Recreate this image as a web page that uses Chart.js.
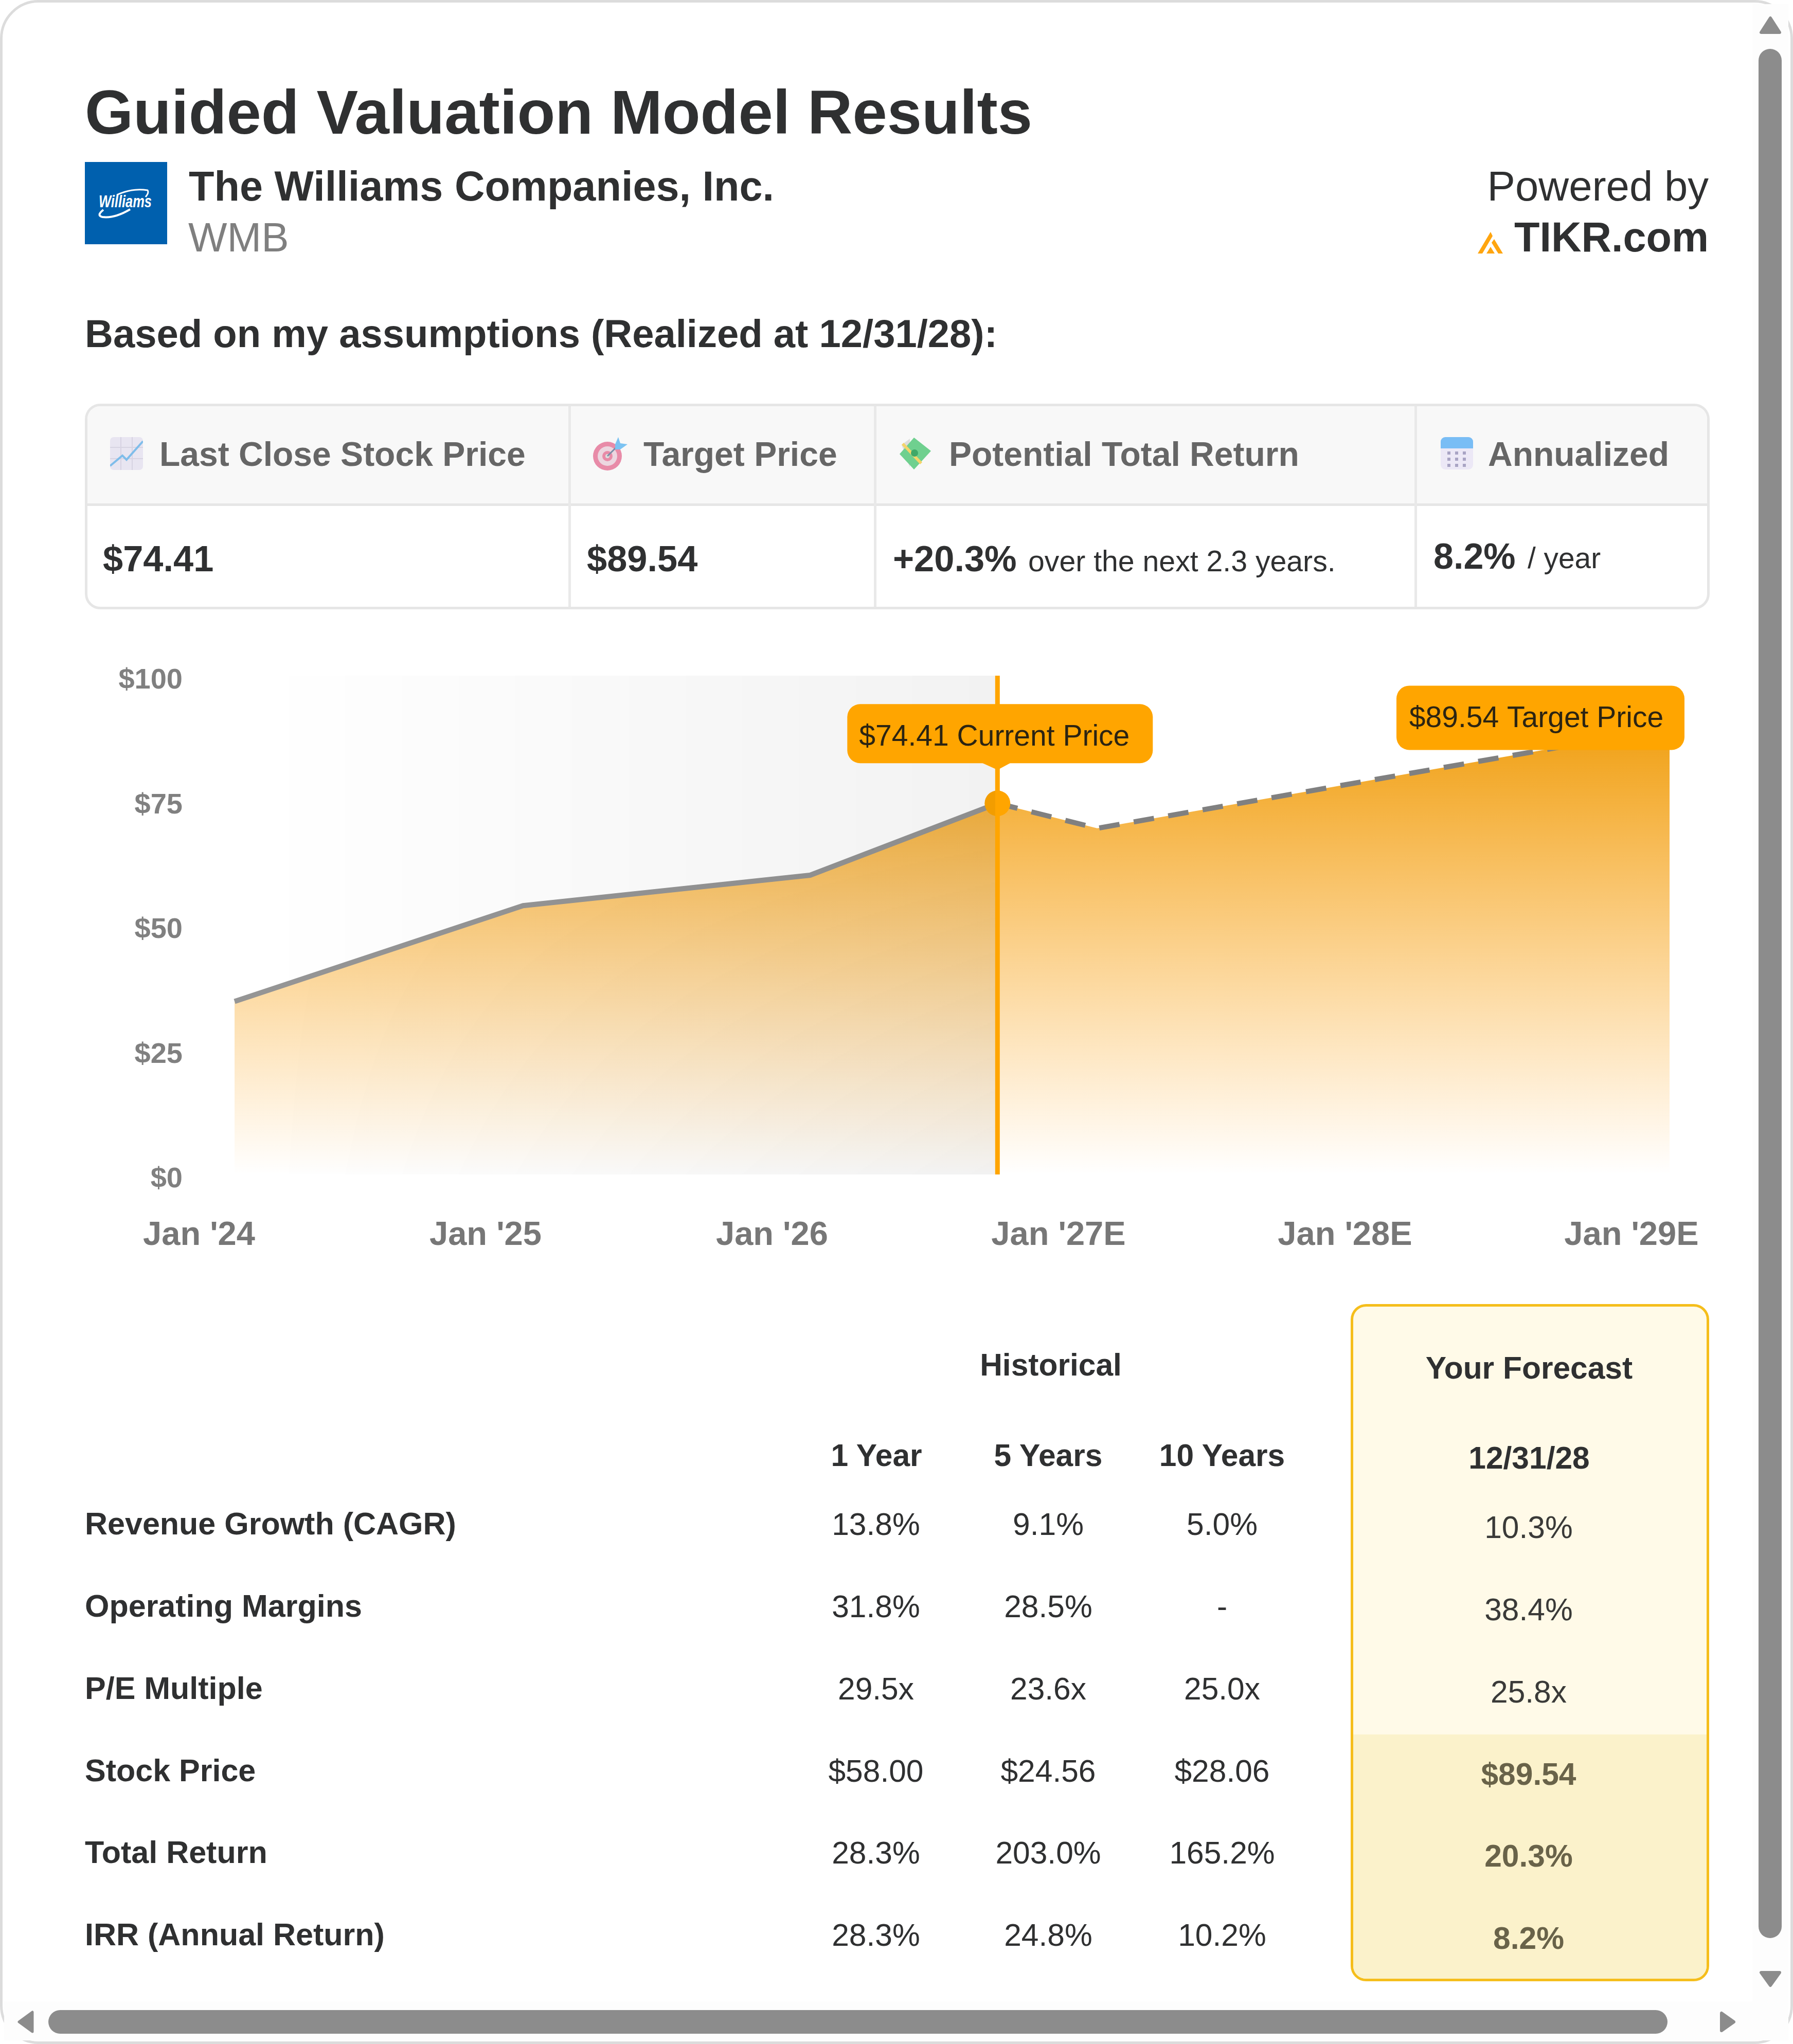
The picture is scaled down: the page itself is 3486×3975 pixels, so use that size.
<!DOCTYPE html>
<html>
<head>
<meta charset="utf-8">
<script src="https://cdn.jsdelivr.net/npm/chart.js@4"></script>
<style>
html,body{margin:0;padding:0;background:#fff;}
body{width:3486px;height:3975px;overflow:hidden;position:relative;font-family:"Liberation Sans",Arial,sans-serif;}
.t{position:absolute;white-space:nowrap;line-height:1;}
.abs{position:absolute;box-sizing:border-box;}
canvas{position:absolute;left:0;top:1250px;}
</style>
</head>
<body>
<div class="abs" style="left:0;top:0;width:3486px;height:3975px;border:5px solid #dcdcdc;border-radius:75px;"></div>
<div class="abs" style="left:3407px;top:8px;width:70px;height:3960px;background:#fdfdfd;"></div>
<div class="abs" style="left:8px;top:3892px;width:3469px;height:76px;background:#fdfdfd;"></div>

<div class="abs" style="left:165px;top:785px;width:3159px;height:400px;border:5px solid #e6e6e6;border-radius:30px;overflow:hidden;">
  <div class="abs" style="left:0;top:0;width:100%;height:194px;background:#f8f8f8;border-bottom:5px solid #e6e6e6;"></div>
  <div class="abs" style="left:935px;top:0;width:5px;height:100%;background:#e9e9e9;"></div>
  <div class="abs" style="left:1529px;top:0;width:5px;height:100%;background:#e9e9e9;"></div>
  <div class="abs" style="left:2580px;top:0;width:5px;height:100%;background:#e9e9e9;"></div>
</div>

<div class="abs" style="left:2626px;top:2536px;width:697px;height:1317px;border:5px solid #f5be1c;border-radius:30px;overflow:hidden;background:#fffae8;">
  <div class="abs" style="left:0;top:832px;width:100%;height:480px;background:#fbf2cb;"></div>
</div>

<svg class="abs" style="left:165px;top:315px" width="160" height="160" viewBox="0 0 160 160">
  <rect width="160" height="160" fill="#0060ae"/>
  <text x="27" y="88" font-family="Liberation Sans" font-weight="700" font-style="italic" font-size="33" fill="#fff" textLength="103" lengthAdjust="spacingAndGlyphs">Williams</text>
  <path d="M62 64 Q92 50 122 55 Q125 60 118 68" fill="none" stroke="#fff" stroke-width="3"/>
  <path d="M36 93 Q22 104 34 107 Q58 110 88 92" fill="none" stroke="#fff" stroke-width="4"/>
</svg>
<svg class="abs" style="left:2873px;top:451px" width="50" height="42" viewBox="0 0 50 42">
  <path d="M0 42 L25 0 L29 8 L9 42 Z M49 42 L40 42 L27 21 L32 14 Z M17 42 L25 29 L33 42 Z" fill="#ffa50f"/>
</svg>

<svg class="abs" style="left:214px;top:850px" width="64" height="64" viewBox="0 0 64 64">
  <rect width="64" height="64" rx="7" fill="#e8e5f1"/>
  <path d="M0 20H64M0 42H64M21 0V64M43 0V64" stroke="#d7d3e2" stroke-width="2"/>
  <path d="M0 56 L24 36 L32 44 L64 8" fill="none" stroke="#7fbdea" stroke-width="4"/>
</svg>
<svg class="abs" style="left:1152px;top:850px" width="68" height="66" viewBox="0 0 68 66">
  <circle cx="29" cy="37" r="28" fill="#e88ba8"/><circle cx="29" cy="37" r="19" fill="#ecd6e0"/><circle cx="29" cy="37" r="10" fill="#e88ba8"/><circle cx="29" cy="37" r="4" fill="#ddd"/>
  <path d="M29 37 L48 18" stroke="#7a8ea8" stroke-width="3"/>
  <path d="M44 14 L50 0 L54 12 L68 14 L54 24 L44 24 Z" fill="#7cc3f2"/>
</svg>
<svg class="abs" style="left:1747px;top:851px" width="63" height="62" viewBox="0 0 63 62">
  <path d="M6 14 L22 2 L22 58 Z" fill="#ddd"/>
  <path d="M30 0 L63 26 L30 62 L2 32 Z" fill="#6fd08f"/>
  <path d="M10 10 L46 48 L42 52 L6 14 Z" fill="#f4d46a"/>
  <circle cx="31" cy="30" r="7" fill="#3fa868"/>
</svg>
<svg class="abs" style="left:2801px;top:850px" width="63" height="63" viewBox="0 0 63 63">
  <rect width="63" height="63" rx="9" fill="#ece8f6"/>
  <path d="M0 22V9a9 9 0 0 1 9-9H54a9 9 0 0 1 9 9V22Z" fill="#79bdf5"/>
  <g fill="#a9a4c4"><rect x="13" y="28" width="6" height="6"/><rect x="28" y="28" width="6" height="6"/><rect x="43" y="28" width="6" height="6"/><rect x="13" y="40" width="6" height="6"/><rect x="28" y="40" width="6" height="6"/><rect x="43" y="40" width="6" height="6"/><rect x="13" y="52" width="6" height="6"/><rect x="28" y="52" width="6" height="6"/><rect x="43" y="52" width="6" height="6"/></g>
</svg>

<svg class="abs" style="left:3419px;top:30px" width="48" height="40"><path d="M23 5 L5 33 H41 Z" fill="#8c8c8c" stroke="#8c8c8c" stroke-width="6" stroke-linejoin="round"/></svg>
<div class="abs" style="left:3419px;top:95px;width:45px;height:3674px;border-radius:23px;background:#8c8c8c;"></div>
<svg class="abs" style="left:3419px;top:3828px" width="48" height="40"><path d="M5 8 H41 L23 33 Z" fill="#8c8c8c" stroke="#8c8c8c" stroke-width="6" stroke-linejoin="round"/></svg>
<div class="abs" style="left:94px;top:3909px;width:3148px;height:46px;border-radius:23px;background:#8c8c8c;"></div>
<svg class="abs" style="left:30px;top:3908px" width="40" height="48"><path d="M33 5 V43 L7 24 Z" fill="#8c8c8c" stroke="#8c8c8c" stroke-width="5" stroke-linejoin="round"/></svg>
<svg class="abs" style="left:3340px;top:3908px" width="40" height="48"><path d="M7 7 V41 L31 24 Z" fill="#8c8c8c" stroke="#8c8c8c" stroke-width="6" stroke-linejoin="round"/></svg>

<canvas id="c" width="3486" height="1250"></canvas>

<script>
// ---- chart data ----
const historyDates = [2024.124, 2025.131, 2026.133, 2026.787];
const historyPrices = [34.7, 53.9, 60.0, 74.41];
const forecastDates = [2026.787, 2027.135, 2029.133];
const forecastPrices = [74.41, 69.4, 89.54];
const xTickYears = [2024, 2025, 2026, 2027, 2028, 2029];
const xTickLabels = ["Jan '24", "Jan '25", "Jan '26", "Jan '27E", "Jan '28E", "Jan '29E"];
const yTickValues = [0, 25, 50, 75, 100];
const currentLabel = "$74.41 Current Price";
const targetLabel = "$89.54 Target Price";

// ---- table data ----
const summaryHeaders = ["Last Close Stock Price", "Target Price", "Potential Total Return", "Annualized"];
const summaryValues = ["$74.41", "$89.54", "+20.3%", "8.2%"];
const rowLabels = ["Revenue Growth (CAGR)", "Operating Margins", "P/E Multiple", "Stock Price", "Total Return", "IRR (Annual Return)"];
const periodHeaders = ["1 Year", "5 Years", "10 Years"];
const oneYear = ["13.8%", "31.8%", "29.5x", "$58.00", "28.3%", "28.3%"];
const fiveYears = ["9.1%", "28.5%", "23.6x", "$24.56", "203.0%", "24.8%"];
const tenYears = ["5.0%", "-", "25.0x", "$28.06", "165.2%", "10.2%"];
const forecast = ["10.3%", "38.4%", "25.8x", "$89.54", "20.3%", "8.2%"];

const FONT = '"Liberation Sans", Arial, sans-serif';
function T(text, x, base, size, o) {
  o = o || {};
  const el = document.createElement('div');
  el.className = 't';
  el.textContent = text;
  el.style.left = x + 'px';
  el.style.top = (base - 0.8465 * size) + 'px';
  el.style.fontSize = size + 'px';
  el.style.fontWeight = o.w || 400;
  el.style.color = o.c || '#333333';
  if (o.ls) el.style.letterSpacing = o.ls + 'px';
  if (o.a === 'c') el.style.transform = 'translateX(-50%)';
  if (o.a === 'r') el.style.transform = 'translateX(-100%)';
  document.body.appendChild(el);
}
const DK = '#2f3031';
T("Guided Valuation Model Results", 165, 260, 121, {w:700, c:DK});
T("The Williams Companies, Inc.", 367, 391, 81, {w:700, c:DK});
T("WMB", 366, 490, 80, {c:'#7f7f7f'});
T("Powered by", 3322, 390, 81.5, {a:'r', c:DK});
T("TIKR.com", 3322, 490, 81, {a:'r', w:700, c:DK});
T("Based on my assumptions (Realized at 12/31/28):", 165, 675, 76, {w:700, c:DK});

const hx = [310, 1251, 1845, 2893];
summaryHeaders.forEach((h,i)=>T(h, hx[i], 906, 66, {w:700, c:'#666666'}));
T(summaryValues[0], 200, 1112, 70.4, {w:700, c:DK});
T(summaryValues[1], 1141, 1112, 70.4, {w:700, c:DK});
T(summaryValues[2], 1736, 1112, 70.4, {w:700, c:DK});
T("over the next 2.3 years.", 1999, 1111, 57.2, {c:DK});
T(summaryValues[3], 2787, 1106, 70, {w:700, c:DK});
T("/ year", 2970, 1106, 56.8, {c:DK});

const colX = [1704, 2038, 2376];
const f = 2973;
T("Historical", 2043, 2675, 60.5, {w:700, a:'c', c:DK});
T("Your Forecast", f, 2681, 60.5, {w:700, a:'c', c:DK});
periodHeaders.forEach((h,i)=>T(h, colX[i], 2851, 60.5, {w:700, a:'c', c:DK}));
T("12/31/28", f, 2856, 60.5, {w:700, a:'c', c:DK});
const rowBase = [2985, 3145, 3305, 3465, 3624, 3784];
rowLabels.forEach((l,i)=>{
  T(l, 165, rowBase[i], 61, {w:700, c:DK});
  T(oneYear[i], colX[0]-1, rowBase[i], 60.5, {a:'c', c:DK});
  T(fiveYears[i], colX[1], rowBase[i], 60.5, {a:'c', c:DK});
  T(tenYears[i], colX[2], rowBase[i], 60.5, {a:'c', c:DK});
  const lower = i >= 3;
  T(forecast[i], f-1, rowBase[i] + 6, 60.5, {a:'c', c: lower ? '#696349' : '#3a3a38', w: lower ? 700 : 400});
});

const priceColor = '#ffa500';
const areaGradient = (ctx) => {
  const c = ctx.chart, y = c.scales.y;
  if (!c.chartArea) return undefined;
  const g = c.ctx.createLinearGradient(0, y.getPixelForValue(forecastPrices[2]), 0, y.getPixelForValue(yTickValues[0]));
  g.addColorStop(0, 'rgba(240,160,20,1)');
  g.addColorStop(1, 'rgba(255,170,40,0)');
  return g;
};
const bandGradient = (ctx) => {
  const c = ctx.chart, x = c.scales.x;
  if (!c.chartArea) return undefined;
  const g = c.ctx.createLinearGradient(x.getPixelForValue(historyDates[0]) + 50, 0, x.getPixelForValue(historyDates[3]), 0);
  g.addColorStop(0, 'rgba(0,0,0,0)');
  g.addColorStop(1, 'rgba(0,0,0,0.05)');
  return g;
};
const pts = (xs, ys) => xs.map((x,i)=>({x, y: ys[i]}));
const allPts = pts(historyDates, historyPrices).concat(pts(forecastDates.slice(1), forecastPrices.slice(1)));
const curX = historyDates[3], curY = historyPrices[3];

function callout(ctx, text, rect, tail, tx, ty) {
  ctx.save();
  ctx.fillStyle = priceColor;
  if (tail) { ctx.beginPath(); ctx.moveTo(tail[0], rect[1]+rect[3]-2); ctx.lineTo(tail[1], rect[1]+rect[3]-2); ctx.lineTo(tail[2]+2, tail[3]-16); ctx.lineTo(tail[2], tail[3]); ctx.lineTo(tail[2]-2, tail[3]-16); ctx.closePath(); ctx.fill(); }
  ctx.beginPath(); ctx.roundRect(rect[0], rect[1], rect[2], rect[3], 25); ctx.fill();
  ctx.fillStyle = '#2c2412';
  ctx.font = '57px ' + FONT;
  ctx.textBaseline = 'alphabetic';
  ctx.textAlign = 'center';
  ctx.fillText(text, tx, ty);
  ctx.restore();
}
const calloutPlugin = {
  id: 'callouts',
  afterDatasetsDraw(chart) {
    const {x, y} = chart.scales, ctx = chart.ctx;
    const cx = x.getPixelForValue(curX), cy = y.getPixelForValue(curY);
    callout(ctx, currentLabel, [cx-292, cy-193, 594, 115], [cx-33, cx+28, cx, cy-50], cx-6, cy-112);
    const tx = x.getPixelForValue(forecastDates[2]), ty = y.getPixelForValue(forecastPrices[2]);
    callout(ctx, targetLabel, [tx-531, ty-82, 560, 125], null, tx-259, ty-1);
  }
};

new Chart(document.getElementById('c').getContext('2d'), {
  type: 'line',
  plugins: [calloutPlugin],
  data: { datasets: [
    { label:'area', data: allPts, order: 9, fill:'origin', backgroundColor: areaGradient, borderWidth:0, pointRadius:0, tension:0 },
    { label:'history', data: pts(historyDates, historyPrices), order: 8, fill:false, borderColor:'#959595', borderWidth:10, pointRadius:0, tension:0, borderCapStyle:'butt' },
    { label:'forecast', data: pts(forecastDates, forecastPrices), order: 7, fill:false, borderColor:'#808080', borderWidth:10, borderDash:[40,28], pointRadius:0, tension:0 },
    { label:'current', data: [{x:curX, y:curY}], order: 6, showLine:false, pointRadius:25, pointBackgroundColor:priceColor, pointBorderWidth:0 },
    { label:'band', data: [{x:historyDates[0], y:100},{x:curX, y:100}], order: 5, fill:'origin', backgroundColor: bandGradient, borderWidth:0, pointRadius:0 },
    { label:'marker', data: [{x:curX, y:0},{x:curX, y:100}], order: 4, fill:false, borderColor:priceColor, borderWidth:9, pointRadius:0 }
  ]},
  options: {
    responsive:false, animation:false, devicePixelRatio:1,
    layout:{padding:{left:0,right:240,top:64,bottom:0}},
    plugins:{legend:{display:false}, tooltip:{enabled:false}},
    scales:{
      x:{ type:'linear', min:xTickYears[0], max:2029.133,
        grid:{display:false}, border:{display:false},
        afterFit(s){ s.height=216; s.paddingLeft=0; s.paddingRight=0; },
        ticks:{ stepSize:1, includeBounds:false, autoSkip:false, maxRotation:0, minRotation:0, padding:72,
          color:'#777777', font:{family:FONT, size:65, weight:'700'},
          callback:(v)=>xTickLabels[xTickYears.indexOf(v)] ?? '' } },
      y:{ min:yTickValues[0], max:yTickValues[4],
        grid:{display:false}, border:{display:false},
        afterFit(s){ s.width=387; s.paddingTop=0; s.paddingBottom=0; },
        ticks:{ stepSize:25, autoSkip:false, padding:24, labelOffset:10,
          color:'#808080', font:{family:FONT, size:56, weight:'700'},
          callback:(v)=>'$'+v } }
    }
  }
});
</script>
</body>
</html>
